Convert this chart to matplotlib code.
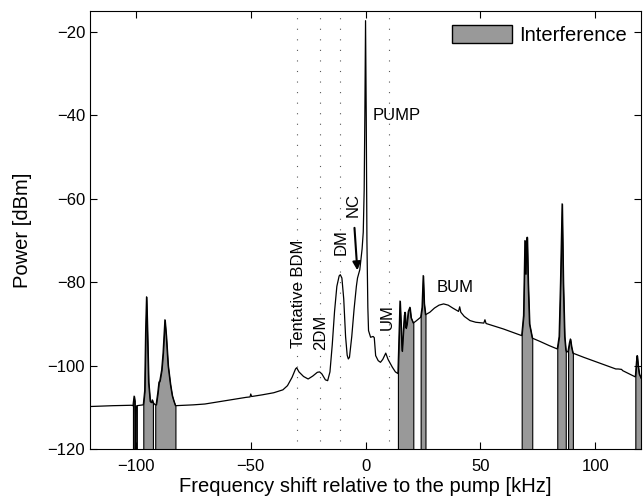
import numpy as np
import matplotlib
matplotlib.use("Agg")
import matplotlib.pyplot as plt
from matplotlib.patches import Patch

plt.rcParams['font.family'] = ['Liberation Sans', 'DejaVu Sans']

# spectrum: frequency shift [kHz], power [dBm]
freq = [-120, -110, -102, -101.3, -100.8, -100.5, -100.3, -100.1, -99.6,
        -98, -96.8, -96.2, -95.8, -95.4, -95.0, -94.5, -93.8, -93.2, -92.9, -92.6,
        -91.6, -91.2, -90.5, -90.0, -89.6, -88.8, -88.2, -87.4, -86.8, -86.0, -85.0, -84.2, -83.5, -82.8,
        -75, -70, -60, -52, -50.3, -50, -49.6, -45, -40, -36, -34, -32, -30.5, -30,
        -29, -27, -25, -23, -21, -20, -19, -17.5, -16.5, -15.5, -14.5, -13.5, -12.5,
        -11.5, -11, -10.3, -9.5, -8.7, -8, -7.5, -7, -6, -5, -4, -3.5, -2.5, -1.5,
        -1, -0.6, -0.3, 0, 0.3, 0.6, 1.0, 1.3, 2.2, 3.3, 3.8, 4.4, 5.5, 6.5, 7.5, 8.8,
        9.8, 11.7, 13.0, 14.1, 14.6, 15.0, 15.4, 15.9, 16.4, 16.9, 17.2, 17.6, 18.0,
        18.6, 19.3, 19.8, 20.8, 22, 24.0, 24.6, 25.1, 25.5, 26.1, 28, 30, 32, 34, 36,
        38, 40.5, 41, 41.5, 43, 45.5, 48, 51.5, 52, 52.5, 56, 60, 64, 68.0, 68.8,
        69.2, 69.4, 69.7, 70.0, 70.4, 70.8, 71.4, 72.6, 76, 80, 83.5, 84.3, 84.9,
        85.6, 86.1, 86.7, 87.2, 87.6, 88.2, 88.8, 89.2, 89.7, 90.3, 95, 100, 105,
        109, 110, 111.5, 112, 117.5, 118.0, 118.3, 118.7, 119.2, 120]
power = [-109.8, -109.6, -109.5, -109.6, -107.3, -108.5, -120, -110, -109.6,
         -109.5, -109.4, -106, -92, -83.5, -92, -104, -108.6, -108.8, -108.2, -108.8,
         -109.4, -109.3, -106.5, -104, -103.6, -101, -97, -89, -93, -100, -104.5, -107.2, -108.5, -109.6,
         -109.4, -109.2, -108.3, -107.6, -107.5, -106.8, -107.4, -107, -106.5, -105.8, -104.8, -102.8, -100.8, -100.5,
         -101.5, -102.6, -103.2, -102.5, -101.6, -101.5, -102, -103.4, -103.6, -101.5, -95, -87, -81,
         -78.5, -78.2, -79, -84, -93, -97.5, -98.4, -98, -93, -86.5, -81, -79, -77, -72,
         -68, -58, -40, -17.3, -40, -70, -86, -91.6, -93.2, -93, -93.3, -97.6, -98.8, -99.2, -98.5, -97,
         -98.5, -100.4, -101.5, -101.9, -92, -84.5, -90, -96.5, -92, -88, -87.2, -91, -90,
         -87, -86, -88.5, -89.8, -89.3, -88.4, -86, -78.4, -85, -87.8, -87.2, -86.2, -85.5, -85.2, -85.5,
         -86.2, -87, -85.9, -87.2, -88.2, -89.2, -89.6, -89.8, -89.0, -89.9, -90.5, -91.2, -92, -92.8, -88,
         -75, -70, -78, -72, -69.2, -80, -90, -93.4, -94.2, -95.2, -96, -93, -80,
         -61.2, -80, -93, -96.2, -96.8, -96.5, -94.5, -93.6, -95.5, -97, -98, -99, -100,
         -100.8, -100.8, -100.9, -101.2, -102.7, -99, -97.6, -100, -102, -103]

# interference bands [kHz]
bands = [(-101.3, -99.6), (-96.8, -92.6), (-91.6, -82.8), (14.1, 20.8), (24.0, 26.1),
         (68.0, 72.6), (83.5, 87.2), (88.2, 90.3), (117.5, 120)]

# dotted marker lines [kHz]
markers = [-30, -20, -11, 10]

freq = np.array(freq)
power = np.array(power)

fig = plt.figure(figsize=(6.43, 5.04), dpi=100)
ax = fig.add_axes([0.140, 0.109, 0.857, 0.869])

for a, b in bands:
    m = (freq >= a) & (freq <= b)
    ax.fill_between(freq[m], power[m], -120, facecolor='0.6', edgecolor='k', linewidth=0.8)

ax.plot(freq, power, color='k', linewidth=0.9)

for xm in markers:
    ax.plot([xm, xm], [-118, -16], color='0.35', linestyle=(0, (1, 8.5)), linewidth=0.8)

fs = 12
ax.text(3, -40, 'PUMP', fontsize=fs, va='center', ha='left')
ax.text(-5.2, -61.4, 'NC', fontsize=fs, rotation=90, va='center', ha='center')
ax.text(-10.7, -70.4, 'DM', fontsize=fs, rotation=90, va='center', ha='center')
ax.text(-29.4, -82.9, 'Tentative BDM', fontsize=fs, rotation=90, va='center', ha='center')
ax.text(-19.6, -92, '2DM', fontsize=fs, rotation=90, va='center', ha='center')
ax.text(9.5, -88.4, 'UM', fontsize=fs, rotation=90, va='center', ha='center')
ax.text(39, -81.2, 'BUM', fontsize=fs, va='center', ha='center')
ax.annotate('', xy=(-3.5, -77.8), xytext=(-4.9, -66.3),
            arrowprops=dict(arrowstyle='-|>', color='k', lw=1.5, mutation_scale=12))

ax.set_xlim(-120, 120)
ax.set_ylim(-120, -15)
ax.set_xticks([-100, -50, 0, 50, 100])
ax.set_yticks([-120, -100, -80, -60, -40, -20])
ax.tick_params(direction='in', top=True, right=True, labelsize=12, length=5)
ax.tick_params(axis='x', pad=7)
ax.set_xlabel('Frequency shift relative to the pump [kHz]', fontsize=14.5, labelpad=2)
ax.set_ylabel('Power [dBm]', fontsize=14.5, labelpad=11)

ax.legend(handles=[Patch(facecolor='0.6', edgecolor='k', label='Interference')],
          loc='upper right', frameon=False, fontsize=14.5, handlelength=3.0,
          handleheight=0.95, handletextpad=0.35, borderaxespad=0.3)

fig.savefig('out.png', dpi=100)
